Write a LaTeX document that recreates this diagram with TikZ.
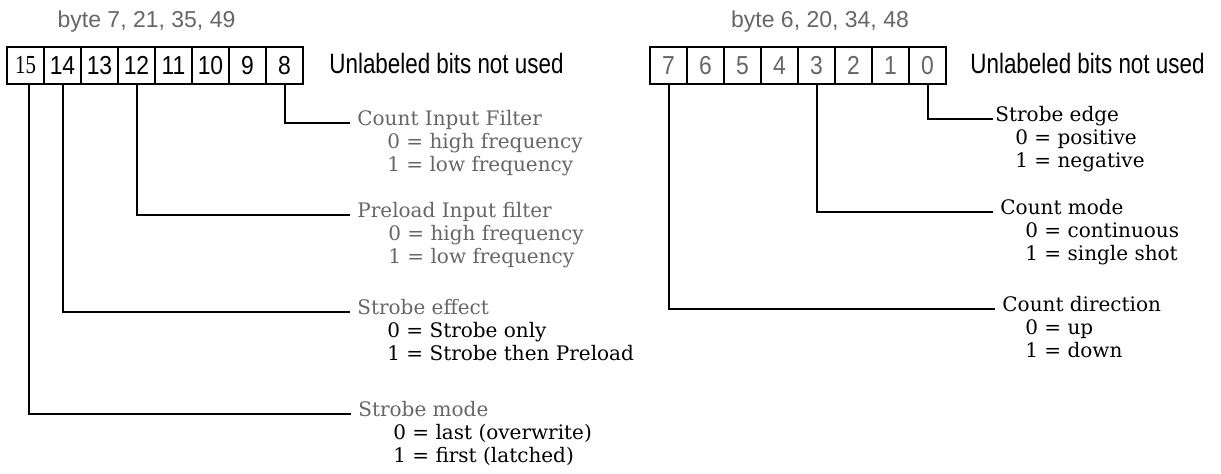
\documentclass[tikz,border=0pt]{standalone}
\usepackage{fontspec}
\setmainfont{DejaVu Serif}
\newfontfamily\bitsans[FakeStretch=0.8]{Liberation Sans}
\newfontfamily\cellsans[FakeStretch=0.88]{Liberation Sans}
\newfontfamily\bitserif[FakeStretch=0.8]{Liberation Serif}
\newfontfamily\headsans{Liberation Sans}
\definecolor{fadetext}{HTML}{666666}

\begin{document}
\begin{tikzpicture}[x=0.5pt,y=-0.5pt,
  cell/.style={draw,line width=1pt,minimum width=18.5pt,minimum height=18.5pt,inner sep=0pt,font=\cellsans\fontsize{13}{15}\selectfont},
  head/.style={anchor=base,text=fadetext,font=\headsans\fontsize{11.5}{13}\selectfont},
  note/.style={anchor=base west,inner sep=0pt,font=\bitsans\fontsize{14}{16}\selectfont},
  field/.style={anchor=base west,inner sep=0pt,font=\fontsize{10}{11.5}\selectfont},
  bitline/.style={line width=1pt}]
\useasboundingbox (0,0) rectangle (1221,474);

% left register, bits 15..8
\node[head] (lhead) at (146.5,28) {byte 7, 21, 35, 49};
\node[cell,font=\bitserif\fontsize{13}{15}\selectfont] (l15) at (25.5,65.5) {15};
\foreach \b [count=\i] in {14,13,...,8}
  \node[cell] (l\b) at (25.5+37*\i,65.5) {\b};
\node[note] (lnote) at (329,74) {Unlabeled bits not used};

\node[field,text=fadetext] (cif) at (357,126) {\begin{tabular}[t]{@{}l@{}}Count Input Filter\\\hspace*{15pt}0 = high frequency\\\hspace*{15pt}1 = low frequency\end{tabular}};
\node[field,text=fadetext] (pif) at (357,218) {\begin{tabular}[t]{@{}l@{}}Preload Input filter\\\hspace*{15.5pt}0 = high frequency\\\hspace*{15.5pt}1 = low frequency\end{tabular}};
\node[field] (seff) at (357,315) {\begin{tabular}[t]{@{}l@{}}\textcolor{fadetext}{Strobe effect}\\\hspace*{15pt}0 = Strobe only\\\hspace*{15pt}1 = Strobe then Preload\end{tabular}};
\node[field] (smode) at (358,417) {\begin{tabular}[t]{@{}l@{}}\textcolor{fadetext}{Strobe mode}\\\hspace*{17.5pt}0 = last (overwrite)\\\hspace*{17.5pt}1 = first (latched)\end{tabular}};

\draw[bitline] (l8.south) |- ([xshift=-3.5pt,yshift=1.5pt]cif.base west);
\draw[bitline] (l12.south) |- ([xshift=-3.5pt,yshift=1.5pt]pif.base west);
\draw[bitline] (l14.south) |- ([xshift=-3.5pt,yshift=1.5pt]seff.base west);
\draw[bitline] ([xshift=1.5pt]l15.south) |- ([xshift=-3.5pt,yshift=1.5pt]smode.base west);

% right register, bits 7..0
\node[head] (rhead) at (820,28) {byte 6, 20, 34, 48};
\foreach \b [count=\i from 0] in {7,6,...,0}
  \node[cell,text=fadetext] (r\b) at (668.5+37*\i,65.5) {\b};
\node[note] (rnote) at (970,74) {Unlabeled bits not used};

\node[field] (sedge) at (995,122) {\begin{tabular}[t]{@{}l@{}}Strobe edge\\\hspace*{10pt}0 = positive\\\hspace*{10pt}1 = negative\end{tabular}};
\node[field] (cmode) at (1000,215) {\begin{tabular}[t]{@{}l@{}}Count mode\\\hspace*{12.5pt}0 = continuous\\\hspace*{12.5pt}1 = single shot\end{tabular}};
\node[field] (cdir) at (1002,312) {\begin{tabular}[t]{@{}l@{}}Count direction\\\hspace*{11.5pt}0 = up\\\hspace*{11.5pt}1 = down\end{tabular}};

\draw[bitline] (r0.south) |- ([xshift=-1pt,yshift=1.5pt]sedge.base west);
\draw[bitline] (r3.south) |- ([xshift=-3.5pt,yshift=1.5pt]cmode.base west);
\draw[bitline] (r7.south) |- ([xshift=-3.5pt,yshift=1.5pt]cdir.base west);
\end{tikzpicture}
\end{document}
